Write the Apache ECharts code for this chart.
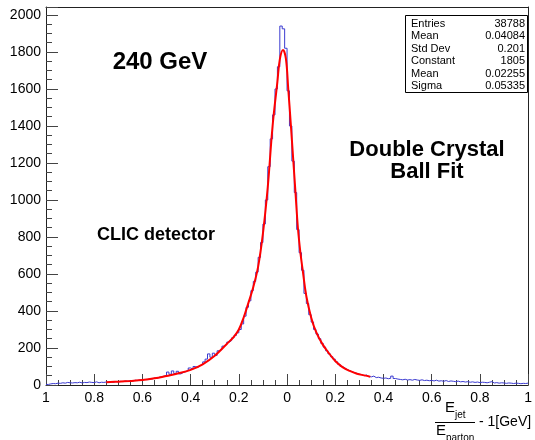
<!DOCTYPE html>
<html>
<head>
<meta charset="utf-8">
<script src="https://cdn.jsdelivr.net/npm/echarts@6/dist/echarts.min.js"></script>
<style>
  html, body { margin: 0; padding: 0; background: #fff; }
  #chart { width: 535px; height: 440px; }
</style>
</head>
<body>
<div id="chart"></div>
<script>
// ---- data ----
const binLow = -1;
const binWidth = 0.01;
const counts = [
  // -1.00 .. -0.75
  3, 6, 8, 7, 10, 9, 12, 10, 14, 12, 11, 13, 12, 15, 11, 14, 13, 16, 14, 13, 17, 12, 15, 14, 16,
  // -0.75 .. -0.50
  15, 18, 14, 19, 17, 20, 18, 22, 20, 24, 21, 26, 24, 28, 26, 30, 29, 34, 32, 38, 36, 42, 45, 48, 52,
  // -0.50 .. -0.25
  70, 58, 76, 62, 74, 60, 68, 72, 80, 92, 86, 100, 95, 105, 112, 125, 140, 168, 150, 172, 160, 185, 192, 210, 220,
  // -0.25 .. 0.30
  232, 240, 255, 268, 282, 300, 330, 372, 420, 455,
  510, 560, 610, 690, 770, 870, 1000, 1180, 1330, 1460,
  1600, 1720, 1940, 1925, 1820, 1590, 1400, 1210, 1040, 840,
  715, 620, 495, 440, 380, 340, 300, 275, 250, 225,
  205, 185, 168, 153, 140, 125, 112, 100, 92, 84,
  77, 72, 67, 63, 58,
  // 0.30 .. 1.00
  56, 50, 54, 46, 44, 48, 40, 42, 38, 36, 38, 34, 36, 48, 35, 32, 30, 28, 31, 27,
  29, 26, 30, 27, 25, 28, 24, 26, 23, 25, 22, 26, 21, 23, 20, 24, 19, 22, 20, 18,
  21, 17, 19, 16, 18, 15, 17, 14, 16, 13, 15, 14, 12, 15, 18, 11, 13, 10, 12, 11,
  9, 11, 10, 8, 10, 9, 7, 9, 8, 10
];
const fitX = [-0.75, -0.70, -0.65, -0.60, -0.55, -0.50, -0.45, -0.40, -0.35, -0.30, -0.25, -0.22, -0.20, -0.18, -0.16, -0.14, -0.12, -0.10, -0.08, -0.06, -0.04, -0.03, -0.017, -0.005, 0.005, 0.015, 0.025, 0.035, 0.045, 0.055, 0.065, 0.08, 0.10, 0.12, 0.145, 0.17, 0.20, 0.23, 0.26, 0.29, 0.32, 0.345];
const fitY = [15, 18, 22, 27, 36, 49, 63, 82, 112, 158, 222, 262, 300, 365, 445, 530, 640, 820, 1070, 1400, 1640, 1760, 1811, 1765, 1600, 1420, 1230, 1040, 850, 720, 620, 480, 365, 288, 225, 178, 130, 97, 76, 61, 52, 45];
const xTickLabels = ['1', '0.8', '0.6', '0.4', '0.2', '0', '0.2', '0.4', '0.6', '0.8', '1'];
const yTickLabels = ['0', '200', '400', '600', '800', '1000', '1200', '1400', '1600', '1800', '2000'];
const statNames = ['Entries', 'Mean', 'Std Dev', 'Constant', 'Mean', 'Sigma'];
const statValues = ['38788', '0.04084', '0.201', '1805', '0.02255', '0.05335'];

// ---- build ----
const histData = counts.map((c, i) => [binLow + i * binWidth, c]);
histData.push([binLow + counts.length * binWidth, counts[counts.length - 1]]);
const fitData = fitX.map((x, i) => [x, fitY[i]]);

const FONT = 'Liberation Sans, Arial, Helvetica, sans-serif';
const chart = echarts.init(document.getElementById('chart'), null, { renderer: 'canvas' });

const statTexts = [];
const rowY0 = 23.5, rowH = 12.5;
statNames.forEach((n, i) => {
  statTexts.push({
    type: 'text', z: 101,
    style: { x: 411, y: rowY0 + i * rowH, text: n, fill: '#000', font: '11px ' + FONT, textAlign: 'left', textVerticalAlign: 'middle' }
  });
  statTexts.push({
    type: 'text', z: 101,
    style: { x: 525, y: rowY0 + i * rowH, text: statValues[i], fill: '#000', font: '11px ' + FONT, textAlign: 'right', textVerticalAlign: 'middle' }
  });
});

const option = {
  animation: false,
  backgroundColor: '#fff',
  grid: { left: 46, right: 4, top: 7, bottom: 55, containLabel: false },
  xAxis: [
    {
      type: 'value', min: -1, max: 1, interval: 0.2, position: 'bottom',
      axisLine: { show: true, onZero: false, lineStyle: { color: '#222', width: 1 } },
      axisTick: { show: true, inside: true, length: 11, lineStyle: { color: '#444' } },
      minorTick: { show: true, splitNumber: 4, length: 5, lineStyle: { color: '#444' } },
      axisLabel: {
        color: '#000', fontSize: 14, fontFamily: FONT, margin: 6,
        formatter: v => { const k = Math.round((v + 1) / 0.2); return Math.abs(v + 1 - k * 0.2) < 1e-6 ? xTickLabels[k] : ''; }
      },
      splitLine: { show: false }
    },
    {
      type: 'value', min: -1, max: 1, position: 'top',
      axisLine: { show: true, onZero: false, lineStyle: { color: '#222', width: 1 } },
      axisTick: { show: false }, axisLabel: { show: false }, splitLine: { show: false }
    }
  ],
  yAxis: [
    {
      type: 'value', min: 0, max: 2043, interval: 200, position: 'left',
      axisLine: { show: true, onZero: false, lineStyle: { color: '#222', width: 1 } },
      axisTick: { show: true, inside: true, length: 12, lineStyle: { color: '#444' } },
      axisLabel: {
        color: '#000', fontSize: 14, fontFamily: FONT, margin: 5,
        formatter: v => (v % 200 === 0 ? yTickLabels[v / 200] : '')
      },
      splitLine: { show: false }
    },
    {
      type: 'value', min: 0, max: 2043, interval: 50, position: 'left',
      axisLine: { show: false, onZero: false },
      axisTick: { show: true, inside: true, length: 6, lineStyle: { color: '#444' } },
      axisLabel: { show: false }, splitLine: { show: false }
    },
    {
      type: 'value', min: 0, max: 2043, position: 'right',
      axisLine: { show: true, onZero: false, lineStyle: { color: '#222', width: 1 } },
      axisTick: { show: false }, axisLabel: { show: false }, splitLine: { show: false }
    }
  ],
  series: [
    {
      type: 'line', name: 'hist', xAxisIndex: 0, yAxisIndex: 0,
      data: histData, step: 'end', showSymbol: false, symbol: 'none',
      lineStyle: { color: '#3b3bd0', width: 1 }, z: 2
    },
    {
      type: 'line', name: 'fit', xAxisIndex: 0, yAxisIndex: 0,
      data: fitData, smooth: 0.4, showSymbol: false, symbol: 'none',
      lineStyle: { color: '#ff0000', width: 2 }, z: 3
    }
  ],
  graphic: [
    { type: 'text', z: 100, style: { x: 160, y: 62, text: '240 GeV', fill: '#000', font: 'bold 24px ' + FONT, textAlign: 'center', textVerticalAlign: 'middle' } },
    { type: 'text', z: 100, style: { x: 427, y: 150, text: 'Double Crystal', fill: '#000', font: 'bold 22px ' + FONT, textAlign: 'center', textVerticalAlign: 'middle' } },
    { type: 'text', z: 100, style: { x: 427, y: 172, text: 'Ball Fit', fill: '#000', font: 'bold 22px ' + FONT, textAlign: 'center', textVerticalAlign: 'middle' } },
    { type: 'text', z: 100, style: { x: 156, y: 235, text: 'CLIC detector', fill: '#000', font: 'bold 18px ' + FONT, textAlign: 'center', textVerticalAlign: 'middle' } },
    { type: 'rect', z: 100, shape: { x: 405.5, y: 15.5, width: 122, height: 77 }, style: { fill: '#fff', stroke: '#000', lineWidth: 1 } },
    ...statTexts,
    // x-axis title: E_jet / E_parton - 1[GeV]
    { type: 'text', z: 100, style: { x: 445, y: 408, text: 'E', fill: '#000', font: '15px ' + FONT, textAlign: 'left', textVerticalAlign: 'middle' } },
    { type: 'text', z: 100, style: { x: 455, y: 415, text: 'jet', fill: '#000', font: '10px ' + FONT, textAlign: 'left', textVerticalAlign: 'middle' } },
    { type: 'line', z: 100, shape: { x1: 435, y1: 422.5, x2: 475, y2: 422.5 }, style: { stroke: '#000', lineWidth: 1 } },
    { type: 'text', z: 100, style: { x: 436, y: 431, text: 'E', fill: '#000', font: '15px ' + FONT, textAlign: 'left', textVerticalAlign: 'middle' } },
    { type: 'text', z: 100, style: { x: 446, y: 438, text: 'parton', fill: '#000', font: '10px ' + FONT, textAlign: 'left', textVerticalAlign: 'middle' } },
    { type: 'text', z: 100, style: { x: 479, y: 422, text: '- 1[GeV]', fill: '#000', font: '14px ' + FONT, textAlign: 'left', textVerticalAlign: 'middle' } }
  ]
};
chart.setOption(option);
</script>
</body>
</html>
